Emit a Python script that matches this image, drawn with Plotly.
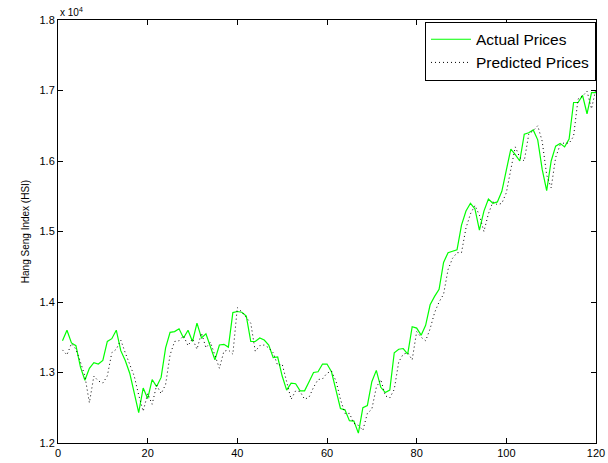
import plotly.graph_objects as go

days = list(range(1, 121))

actual_prices = [
    13450, 13600, 13420, 13380, 13080, 12890, 13060, 13140, 13120, 13170,
    13440, 13480, 13600, 13310, 13170, 12990, 12710, 12430, 12780, 12630,
    12900, 12800, 12930, 13350, 13570, 13580, 13620, 13490, 13600, 13440,
    13700, 13490, 13550, 13370, 13180, 13390, 13400, 13360, 13850, 13865,
    13855, 13800, 13440, 13440, 13490, 13460, 13390, 13210, 13220, 12950,
    12750, 12850, 12840, 12740, 12740, 12870, 13000, 13010, 13120, 13120,
    13010, 12750, 12490, 12470, 12317, 12310, 12140, 12500, 12530, 12870,
    13030, 12790, 12715, 12750, 13280, 13330, 13340, 13260, 13650, 13630,
    13530, 13670, 13960, 14080, 14180, 14560, 14700, 14720, 14740, 15090,
    15290, 15400, 15320, 15020, 15290, 15460, 15400, 15420, 15570, 15870,
    16170, 16090, 16000, 16380, 16400, 16440, 16300, 15880, 15580, 16000,
    16210, 16250, 16200, 16310, 16830, 16830, 16930, 16670, 16970, 16970,
]

predicted_prices = [
    13320, 13250, 13410, 13330, 13150, 12950, 12570, 12950, 12880, 12850,
    12950, 13280, 13330, 13460, 13280, 13100, 12950, 12680, 12450, 12700,
    12550, 12820, 12700, 12830, 13250, 13440, 13450, 13520, 13380, 13480,
    13330, 13560, 13350, 13430, 13250, 13060, 13300, 13320, 13260, 13920,
    13860, 13780, 13700, 13300, 13380, 13390, 13350, 13280, 13100, 13120,
    12860, 12620, 12740, 12730, 12620, 12650, 12790, 12900, 12910, 12990,
    13020, 12880, 12620, 12420, 12420, 12280, 12250, 12180, 12420, 12480,
    12790, 12900, 12670, 12640, 12760, 13150, 13260, 13280, 13180, 13580,
    13500, 13450, 13620, 13850, 14000, 14110, 14460, 14620, 14700, 14700,
    15050, 15250, 15370, 15230, 15000, 15250, 15420, 15380, 15400, 15550,
    15880, 16200, 16050, 16000, 16380, 16430, 16500, 16280, 15800, 15620,
    16050, 16230, 16260, 16250, 16350, 16880, 16920, 16990, 16740, 17030,
]

x_ticks = [0, 20, 40, 60, 80, 100, 120]
y_ticks = [12000, 13000, 14000, 15000, 16000, 17000, 18000]
y_tick_labels = ["1.2", "1.3", "1.4", "1.5", "1.6", "1.7", "1.8"]

font_family = "Liberation Sans, Arial, Helvetica, sans-serif"

fig = go.Figure()
fig.add_trace(go.Scatter(
    x=days, y=actual_prices, mode="lines", name="Actual Prices",
    line=dict(color="#00ff00", width=1.2),
))
fig.add_trace(go.Scatter(
    x=days, y=predicted_prices, mode="lines", name="Predicted Prices",
    line=dict(color="black", width=1, dash="1px,3px"),
))

axis_common = dict(
    showline=True, linecolor="black", linewidth=1, mirror="ticks",
    ticks="inside", ticklen=5, tickcolor="black", showgrid=False,
    zeroline=False, automargin=False,
    tickfont=dict(family=font_family, size=11, color="black"),
)

fig.update_layout(
    width=608, height=463,
    margin=dict(l=58, r=12, t=20, b=20),
    paper_bgcolor="white", plot_bgcolor="white",
    font=dict(family=font_family, color="black"),
    showlegend=True,
    legend=dict(
        x=1, xanchor="right", y=0.996, yanchor="top",
        bordercolor="black", borderwidth=1, bgcolor="white",
        font=dict(family=font_family, size=15.5, color="black"),
        tracegroupgap=0, itemwidth=40,
    ),
    xaxis=dict(range=[0, 120], tickvals=x_ticks, **axis_common),
    yaxis=dict(
        range=[12000, 18000], tickvals=y_ticks, ticktext=y_tick_labels,
        title=dict(text="Hang Seng Index (HSI)", font=dict(family=font_family, size=10), standoff=8),
        **axis_common,
    ),
    annotations=[dict(
        text="x 10<sup>4</sup>", xref="paper", yref="paper", x=0, y=1,
        xanchor="left", yanchor="bottom", showarrow=False,
        font=dict(family=font_family, size=10, color="black"),
    )],
)

fig.write_html(
    "out.html",
    config={"displayModeBar": False, "staticPlot": True},
    post_script="document.body.style.margin='0';document.body.style.overflow='hidden';",
)
